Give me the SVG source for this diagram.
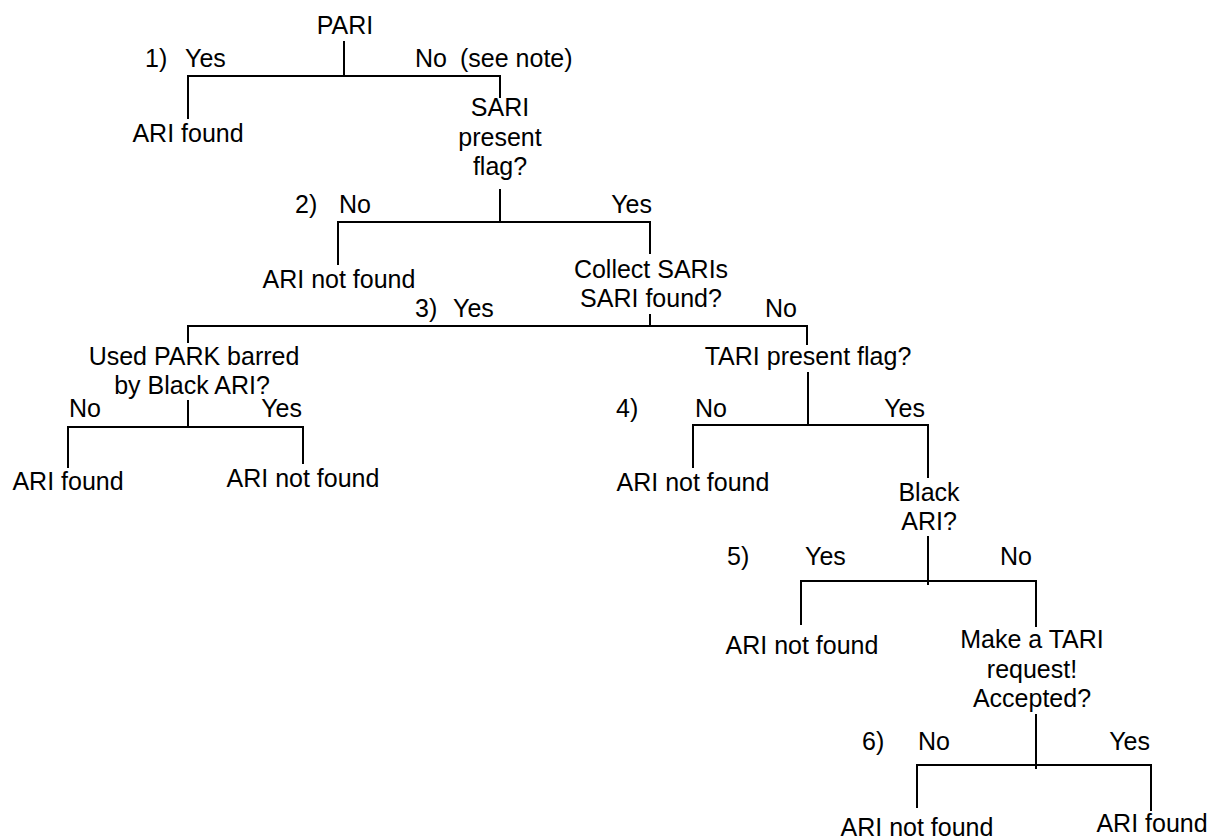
<svg xmlns="http://www.w3.org/2000/svg" width="1210" height="838" viewBox="0 0 1210 838">
<style>
text{font-family:"Liberation Sans",Arial,sans-serif;font-size:25px;fill:#000}
.c{text-anchor:middle}
.e{text-anchor:end}
.ln{fill:none;stroke:#000;stroke-width:2;stroke-linecap:square}
</style>
<rect width="1210" height="838" fill="#fff"/>
<g id="connectors" class="ln">
<path d="M344 42V76M188 118V76H500V97"/>
<path d="M500 190V222M338 264V222H650V253"/>
<path d="M650 315V326M188 342V326H807V344"/>
<path d="M188 401V427M68 467V427H303V463"/>
<path d="M808 373V425M693 467V425H928V477"/>
<path d="M928 537V584M801 624V581H1036V626"/>
<path d="M1036 715V768M917 807V765H1151V810"/>
</g>
<g id="labels">
<text x="145" y="67">1)</text><text x="185" y="67">Yes</text>
<text x="415" y="67">No</text><text x="460" y="67">(see note)</text>
<text x="295" y="213">2)</text><text x="339" y="213">No</text><text x="652" y="213" class="e">Yes</text>
<text x="415" y="317">3)</text><text x="453" y="317">Yes</text><text x="797" y="317" class="e">No</text>
<text x="69" y="417">No</text><text x="302" y="417" class="e">Yes</text>
<text x="616" y="417">4)</text><text x="695" y="417">No</text><text x="925" y="417" class="e">Yes</text>
<text x="727" y="565">5)</text><text x="805" y="565">Yes</text><text x="1000" y="565">No</text>
<text x="862" y="750">6)</text><text x="918" y="750">No</text><text x="1150" y="750" class="e">Yes</text>
</g>
<g id="n-pari"><text x="345" y="34" class="c">PARI</text></g>
<g id="n-found1"><text x="188" y="142" class="c">ARI found</text></g>
<g id="n-sari"><text x="500" y="116" class="c">SARI</text><text x="500" y="146" class="c">present</text><text x="500" y="175" class="c">flag?</text></g>
<g id="n-notfound2"><text x="339" y="288" class="c">ARI not found</text></g>
<g id="n-collect"><text x="651" y="278" class="c">Collect SARIs</text><text x="651" y="307" class="c">SARI found?</text></g>
<g id="n-park"><text x="194" y="365" class="c">Used PARK barred</text><text x="192" y="394" class="c">by Black ARI?</text></g>
<g id="n-found3"><text x="68" y="490" class="c">ARI found</text></g>
<g id="n-notfound3"><text x="303" y="487" class="c">ARI not found</text></g>
<g id="n-tari"><text x="808" y="365" class="c">TARI present flag?</text></g>
<g id="n-notfound4"><text x="693" y="491" class="c">ARI not found</text></g>
<g id="n-black"><text x="929" y="501" class="c">Black</text><text x="929" y="530" class="c">ARI?</text></g>
<g id="n-notfound5"><text x="802" y="654" class="c">ARI not found</text></g>
<g id="n-request"><text x="1032" y="648" class="c">Make a TARI</text><text x="1032" y="678" class="c">request!</text><text x="1032" y="707" class="c">Accepted?</text></g>
<g id="n-notfound6"><text x="917" y="836" class="c">ARI not found</text></g>
<g id="n-found6"><text x="1152" y="832" class="c">ARI found</text></g>
</svg>
